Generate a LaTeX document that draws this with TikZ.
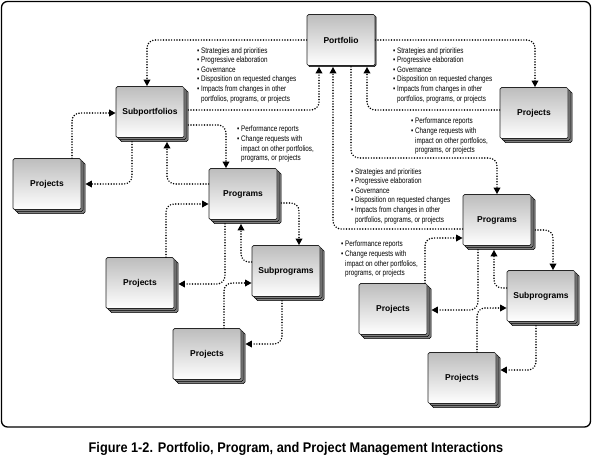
\documentclass[tikz,border=0pt]{standalone}
\usepackage{fontspec}
\setmainfont{Liberation Sans}
\newfontfamily\condfont[FakeStretch=0.79]{Liberation Sans}
\newfontfamily\capfont[FakeStretch=0.91]{Liberation Sans}
\usetikzlibrary{arrows.meta,calc,shadows}
\tikzset{
  boxface/.style={draw=black!85, line width=0.7pt, rounded corners=1.5pt,
    top color=black!26, bottom color=white, minimum width=68pt, minimum height=51pt,
    inner sep=0pt, font=\bfseries\fontsize{8.5}{10}\selectfont},
  stackbox/.style={boxface, double copy shadow={shadow xshift=2pt, shadow yshift=-2pt,
    fill=black!50, draw=black, line width=0.5pt}},
  topbox/.style={boxface, copy shadow={shadow xshift=1pt, shadow yshift=-1pt,
    fill=black!60, draw=black, line width=0.5pt}},
  conn/.style={line width=1.65pt, dash pattern=on 0pt off 2.7pt, line cap=round,
    rounded corners=8pt, -{Triangle[length=6.5pt,width=6.5pt]}},
  info/.style={font=\condfont\fontsize{8}{9.6}\selectfont, align=left,
    inner sep=0pt, anchor=north west},
}
\newcommand{\bl}{\textbullet\ }
\newcommand{\ind}{\hphantom{\textbullet\ }}
\begin{document}
\begin{tikzpicture}[x=1pt,y=-1pt]
\useasboundingbox (0,0) rectangle (592,459);
\draw[line width=1.3pt, rounded corners=6pt] (1.5,1.5) rectangle (590.5,427);

% boxes
\node[topbox]   (pf)   at (341,40)  {Portfolio};
\node[stackbox] (sp)   at (150,112) {Subportfolios};
\node[stackbox] (prTR) at (534,113) {Projects};
\node[stackbox] (prL)  at (47,184)  {Projects};
\node[stackbox] (pg)   at (243,194) {Programs};
\node[stackbox] (prML) at (140,283) {Projects};
\node[stackbox] (sg)   at (286,271) {Subprograms};
\node[stackbox] (prB)  at (207,354) {Projects};
\node[stackbox] (pgR)  at (497,220) {Programs};
\node[stackbox] (sgR)  at (541,296) {Subprograms};
\node[stackbox] (prR)  at (393,309) {Projects};
\node[stackbox] (prBR) at (462,378) {Projects};

% text blocks
\node[info] (tA) at (197,47) {\bl Strategies and priorities\\ \bl Progressive elaboration\\ \bl Governance\\ \bl Disposition on requested changes\\ \bl Impacts from changes in other\\ \ind portfolios, programs, or projects};
\node[info] (tB) at (393,47) {\bl Strategies and priorities\\ \bl Progressive elaboration\\ \bl Governance\\ \bl Disposition on requested changes\\ \bl Impacts from changes in other\\ \ind portfolios, programs, or projects};
\node[info] (tE) at (351,168) {\bl Strategies and priorities\\ \bl Progressive elaboration\\ \bl Governance\\ \bl Disposition on requested changes\\ \bl Impacts from changes in other\\ \ind portfolios, programs, or projects};
\node[info] (tC) at (237,126) {\bl Performance reports\\ \bl Change requests with\\ \ind impact on other portfolios,\\ \ind programs, or projects};
\node[info] (tD) at (411,118) {\bl Performance reports\\ \bl Change requests with\\ \ind impact on other portfolios,\\ \ind programs, or projects};
\node[info] (tF) at (341,241) {\bl Performance reports\\ \bl Change requests with\\ \ind impact on other portfolios,\\ \ind programs, or projects};

% portfolio level
\draw[conn] (pf.west) -| ($(sp.north)+(-3,0)$);
\draw[conn] ($(sp.east)+(4,-2)$) -| ($(pf.south)+(-22,1)$);
\draw[conn] (pf.east) -| ($(prTR.north)+(1,0)$);
\draw[conn] ($(prTR.west)+(0,-3)$) -| ($(pf.south)+(26,1)$);
\draw[conn] ($(pf.south)+(10,1)$) |- (420,158) -| (pgR.north);
\draw[conn] ($(pgR.west)+(0,9)$) -| ($(pf.south)+(-8,1)$);

% left cluster
\draw[conn] ($(sp.east)+(4,13)$) -| ($(pg.north)+(-17,0)$);
\draw[conn] ($(pg.west)+(0,-10)$) -| ($(sp.south)+(17,4)$);
\draw[conn] ($(sp.south)+(-18,4)$) |- ($(prL.east)+(4,0)$);
\draw[conn] ($(prL.north)+(25,0)$) |- ($(sp.west)+(0,1)$);

% middle cluster
\draw[conn] ($(prML.north)+(26,0)$) |- ($(pg.west)+(0,10)$);
\draw[conn] ($(pg.south)+(-18,4)$) |- ($(prML.east)+(4,1)$);
\draw[conn] ($(pg.east)+(4,9)$) -| ($(sg.north)+(13,0)$);
\draw[conn] ($(sg.west)+(0,-9)$) -| ($(pg.south)+(-2,4)$);
\draw[conn] ($(prB.north)+(17,0)$) |- ($(sg.west)+(0,12)$);
\draw[conn] ($(sg.south)+(-4,4)$) |- ($(prB.east)+(4,-10)$);

% right cluster
\draw[conn] ($(prR.north)+(32,0)$) |- ($(pgR.west)+(0,18)$);
\draw[conn] ($(pgR.south)+(-19,4)$) |- ($(prR.east)+(4,1)$);
\draw[conn] ($(pgR.east)+(4,10)$) -| ($(sgR.north)+(12,0)$);
\draw[conn] ($(sgR.west)+(0,-8)$) -| ($(pgR.south)+(-3,4)$);
\draw[conn] ($(prBR.north)+(15,0)$) |- ($(sgR.west)+(0,12)$);
\draw[conn] ($(sgR.south)+(-5,4)$) |- ($(prBR.east)+(4,-8)$);

\node[font=\capfont\bfseries\fontsize{14}{16}\selectfont] (cap) at (296,449)
  {Figure 1-2. Portfolio, Program, and Project Management Interactions};
\end{tikzpicture}
\end{document}
